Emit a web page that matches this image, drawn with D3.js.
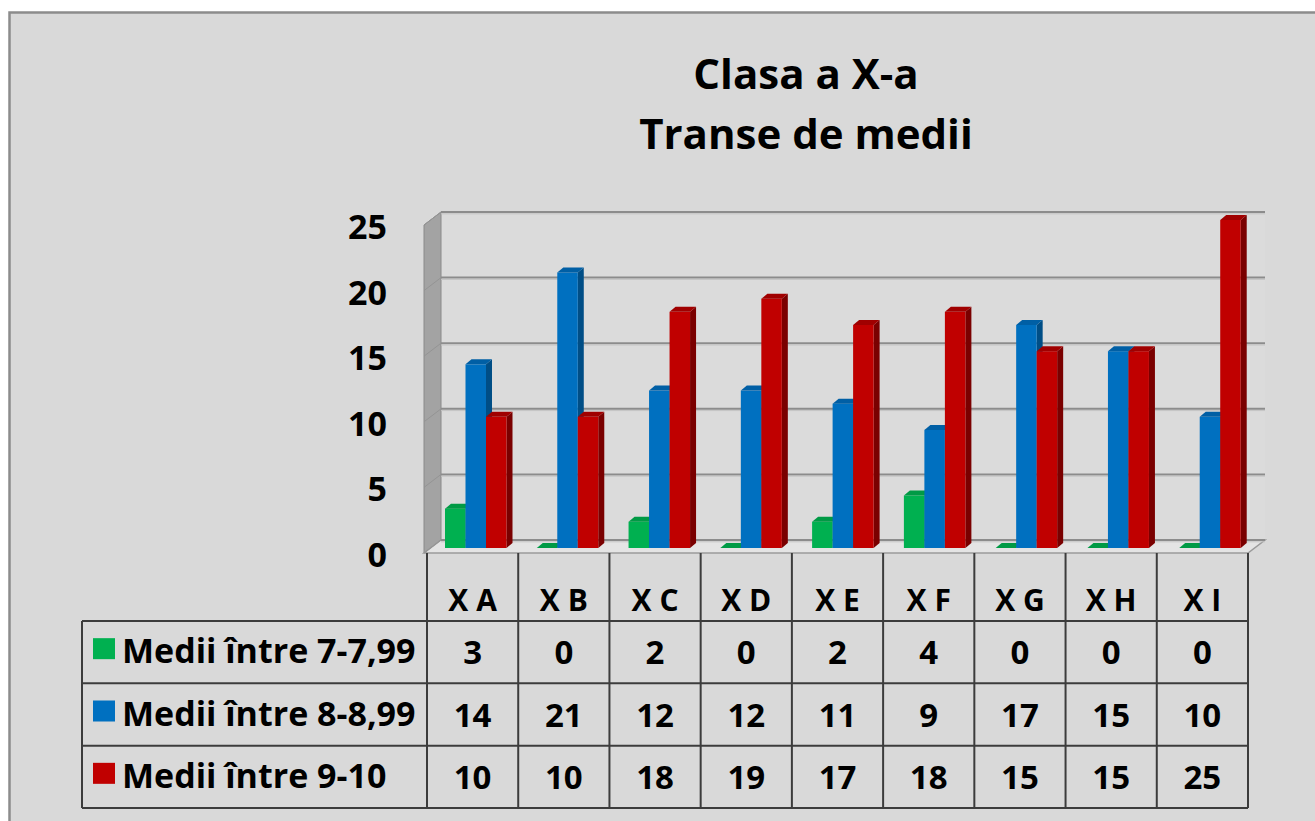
<!DOCTYPE html>
<html>

<head>
    <title>Clasa a X-a - Transe de medii</title>
    <script src="https://cdn.jsdelivr.net/npm/d3@7"></script>
    <style>
        body {
            margin: 0;
            background: #ffffff;
            font-family: 'Open Sans', 'DejaVu Sans', sans-serif;
        }
    </style>
</head>

<body>
    <div id="visDiv"></div>
</body>
<script>
    /* Data */
    var categories = ["X A", "X B", "X C", "X D", "X E", "X F", "X G", "X H", "X I"];
    var seriesNames = ["Medii între 7-7,99", "Medii între 8-8,99", "Medii între 9-10"];
    var medii7 = [3, 0, 2, 0, 2, 4, 0, 0, 0];
    var medii8 = [14, 21, 12, 12, 11, 9, 17, 15, 10];
    var medii9 = [10, 10, 18, 19, 17, 18, 15, 15, 25];
    var yTicks = [0, 5, 10, 15, 20, 25];
    var titleLines = ["Clasa a X-a", "Transe de medii"];

    var seriesValues = [medii7, medii8, medii9];
    var colors = [
        { front: "#00b050", side: "#007a37", top: "#009a45" },
        { front: "#0070c0", side: "#004e86", top: "#005fa5" },
        { front: "#c00000", side: "#7a0000", top: "#a00000" }
    ];

    /* Layout constants */
    var W = 1315, H = 821;
    var backLeft = 441, backRight = 1265;
    var depthX = 17, depthY = 13;        // back wall -> front edge
    var barShiftY = 8;                     // bars stand mid-depth
    var barDx = 6, barDy = 5, barW = 20.5; // bar 3d look

    var svg = d3.select("#visDiv")
        .append("svg")
        .attr("width", W)
        .attr("height", H);

    // outer frame
    svg.append("rect")
        .attr("x", 9.5).attr("y", 12.5)
        .attr("width", W + 20).attr("height", H + 20)
        .attr("fill", "#d9d9d9")
        .attr("stroke", "#8c8c8c")
        .attr("stroke-width", 2.5);

    /* Scales */
    var y = d3.scaleLinear().domain([0, 25]).range([540, 212]);
    var xFront = d3.scaleBand().domain(categories).range([427, 1248]);
    var xBar = d3.scaleBand().domain(categories).range([431, 1257]);
    var rows = d3.scaleBand().domain(seriesNames).range([621, 808]);

    function pts(a) { return a.map(function (p) { return p.join(","); }).join(" "); }

    /* Walls */
    // back wall
    svg.append("rect")
        .attr("x", backLeft).attr("y", y(25))
        .attr("width", backRight - backLeft).attr("height", y(0) - y(25))
        .attr("fill", "#dbdbdb");

    // side wall
    svg.append("polygon")
        .attr("points", pts([[backLeft, y(25)], [backLeft, y(0)], [backLeft - depthX, y(0) + depthY], [backLeft - depthX, y(25) + depthY]]))
        .attr("fill", "#a3a3a3")
        .attr("stroke", "#8a8a8a")
        .attr("stroke-width", 1);

    // floor
    svg.append("polygon")
        .attr("points", pts([[backLeft, y(0)], [backRight, y(0)], [backRight - depthX, y(0) + depthY], [backLeft - depthX, y(0) + depthY]]))
        .attr("fill", "#e4e4e4")
        .attr("stroke", "#9a9a9a")
        .attr("stroke-width", 1.5);

    // gridlines
    var grid = svg.append("g");
    grid.selectAll(".gl")
        .data(yTicks)
        .enter()
        .append("line")
        .attr("x1", backLeft).attr("x2", backRight)
        .attr("y1", function (d) { return y(d); })
        .attr("y2", function (d) { return y(d); })
        .attr("stroke", "#8c8c8c")
        .attr("stroke-width", 2);
    grid.selectAll(".gl2")
        .data(yTicks)
        .enter()
        .append("line")
        .attr("x1", backLeft).attr("x2", backRight)
        .attr("y1", function (d) { return y(d) + 1.8; })
        .attr("y2", function (d) { return y(d) + 1.8; })
        .attr("stroke", "#c4c4c4")
        .attr("stroke-width", 1);
    grid.selectAll(".gs")
        .data(yTicks)
        .enter()
        .append("line")
        .attr("x1", backLeft - depthX).attr("x2", backLeft)
        .attr("y1", function (d) { return y(d) + depthY; })
        .attr("y2", function (d) { return y(d); })
        .attr("stroke", "#949494")
        .attr("stroke-width", 1);

    /* Y labels */
    svg.selectAll(".ylab")
        .data(yTicks)
        .enter()
        .append("text")
        .attr("x", 387)
        .attr("y", function (d) { return y(d) + 27; })
        .attr("text-anchor", "end")
        .attr("font-size", 34)
        .attr("font-weight", "bold")
        .text(function (d) { return d; });

    /* Bars */
    var base = y(0) + barShiftY;
    categories.forEach(function (c, ci) {
        seriesValues.forEach(function (vals, si) {
            var v = vals[ci];
            var x0 = xBar(c) + 14 + si * barW;
            var x1 = x0 + barW;
            var top = y(v) + barShiftY;
            var col = colors[si];
            var g = svg.append("g");
            if (v > 0) {
                g.append("polygon")
                    .attr("points", pts([[x1, top], [x1 + barDx, top - barDy], [x1 + barDx, base - barDy], [x1, base]]))
                    .attr("fill", col.side);
                g.append("rect")
                    .attr("x", x0).attr("y", top)
                    .attr("width", barW).attr("height", base - top)
                    .attr("fill", col.front);
            }
            g.append("polygon")
                .attr("points", pts([[x0, top], [x1, top], [x1 + barDx, top - barDy], [x0 + barDx, top - barDy]]))
                .attr("fill", col.top);
        });
    });

    /* Title */
    svg.selectAll(".title")
        .data(titleLines)
        .enter()
        .append("text")
        .attr("x", 806)
        .attr("y", function (d, i) { return 89 + i * 60; })
        .attr("text-anchor", "middle")
        .attr("font-size", 42)
        .attr("font-weight", "bold")
        .text(function (d) { return d; });

    /* Data table */
    var tbl = svg.append("g")
        .attr("stroke", "#3c3c3c")
        .attr("stroke-width", 2);
    var colEdges = categories.map(function (c) { return xFront(c); }).concat([xFront.range()[1]]);
    // header separators
    tbl.selectAll(".hsep")
        .data(colEdges)
        .enter()
        .append("line")
        .attr("x1", function (d) { return d; }).attr("x2", function (d) { return d; })
        .attr("y1", y(0) + depthY).attr("y2", rows.range()[1]);
    // legend column left edge
    tbl.append("line")
        .attr("x1", 82).attr("x2", 82)
        .attr("y1", rows.range()[0]).attr("y2", rows.range()[1]);
    // row lines
    var rowEdges = seriesNames.map(function (s) { return rows(s); }).concat([rows.range()[1]]);
    tbl.selectAll(".rsep")
        .data(rowEdges)
        .enter()
        .append("line")
        .attr("x1", 82).attr("x2", xFront.range()[1])
        .attr("y1", function (d) { return d; }).attr("y2", function (d) { return d; });

    // header labels
    svg.selectAll(".hdr")
        .data(categories)
        .enter()
        .append("text")
        .attr("x", function (d) { return xFront(d) + xFront.bandwidth() / 2; })
        .attr("y", 611)
        .attr("text-anchor", "middle")
        .attr("font-size", 30)
        .attr("font-weight", "bold")
        .text(function (d) { return d; });

    // legend + values
    seriesNames.forEach(function (s, si) {
        var cy = rows(s) + rows.bandwidth() / 2;
        svg.append("rect")
            .attr("x", 93).attr("y", cy - 14)
            .attr("width", 22).attr("height", 21)
            .attr("fill", colors[si].front);
        svg.append("text")
            .attr("x", 122)
            .attr("y", cy + 11)
            .attr("font-size", 34)
            .attr("font-weight", "bold")
            .text(s);
        svg.selectAll(".val" + si)
            .data(seriesValues[si])
            .enter()
            .append("text")
            .attr("x", function (d, i) { return xFront(categories[i]) + xFront.bandwidth() / 2; })
            .attr("y", cy + 12)
            .attr("text-anchor", "middle")
            .attr("font-size", 33)
            .attr("font-weight", "bold")
            .text(function (d) { return d; });
    });
</script>

</html>
